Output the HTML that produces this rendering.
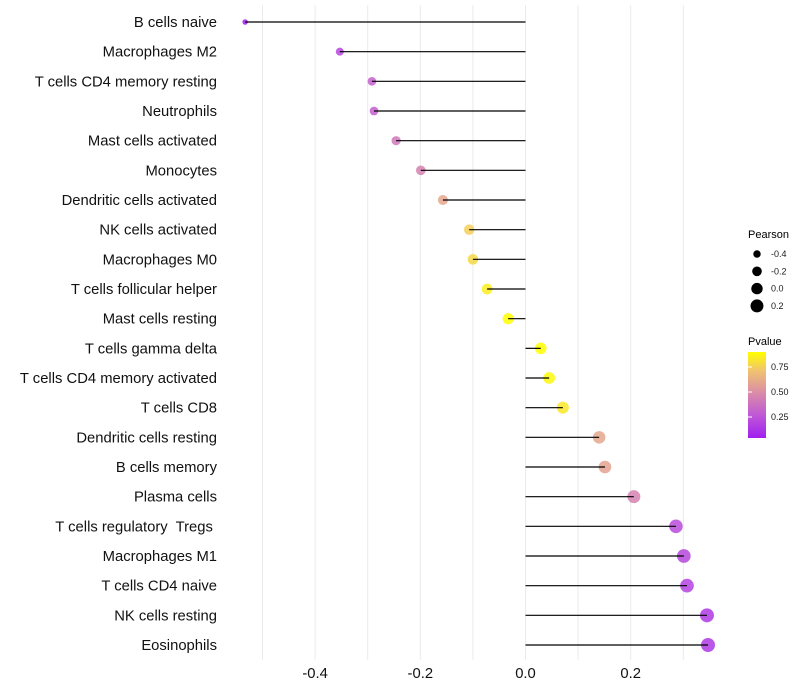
<!DOCTYPE html>
<html><head><meta charset="utf-8"><style>
body{margin:0;background:#fff;font-family:"Liberation Sans",sans-serif}
svg{display:block}
text{white-space:pre}
</style></head><body>
<svg id="chart" width="800" height="700" xmlns="http://www.w3.org/2000/svg">
<g id="grid"></g>
<g id="marks"></g>
<g id="ylabels"></g>
<g id="xlabels"></g>
<g id="legend">
<text x="748" y="238" font-size="11">Pearson</text>
<text x="748" y="345" font-size="11">Pvalue</text>
<defs><linearGradient id="pg" x1="0" y1="1" x2="0" y2="0">
<stop offset="0" stop-color="#A020F0"/><stop offset="0.25" stop-color="#BE55D8"/><stop offset="0.52" stop-color="#D98BA8"/><stop offset="0.78" stop-color="#F0C270"/><stop offset="1" stop-color="#FFFF00"/></linearGradient></defs>
<rect x="748" y="352" width="18" height="86" fill="url(#pg)"/>
</g>
</svg>
<script>
const categories=["B cells naive","Macrophages M2","T cells CD4 memory resting","Neutrophils","Mast cells activated","Monocytes","Dendritic cells activated","NK cells activated","Macrophages M0","T cells follicular helper","Mast cells resting","T cells gamma delta","T cells CD4 memory activated","T cells CD8","Dendritic cells resting","B cells memory","Plasma cells","T cells regulatory  Tregs ","Macrophages M1","T cells CD4 naive","NK cells resting","Eosinophils"];
const pearson=[-0.533,-0.353,-0.292,-0.288,-0.246,-0.199,-0.157,-0.107,-0.100,-0.073,-0.033,0.029,0.045,0.071,0.140,0.151,0.206,0.286,0.301,0.307,0.345,0.347];
const pvalue=[0.04,0.2,0.3,0.3,0.4,0.45,0.6,0.75,0.78,0.85,0.92,0.93,0.88,0.83,0.6,0.58,0.45,0.22,0.2,0.18,0.14,0.14];
const xTicks=[-0.4,-0.2,0.0,0.2];
const xTickLabels=["-0.4","-0.2","0.0","0.2"];
const sizeLegendValues=[-0.4,-0.2,0.0,0.2];
const colorLegendValues=[0.25,0.5,0.75];

const NS="http://www.w3.org/2000/svg";
const x=v=>525.5+v*526;
const y=i=>22+i*(623/21);
const r=v=>Math.sqrt(Math.max(3,32.6+47*v));
const pY=p=>438-(p-0.04)/(0.9-0.04)*86;
function lerp(a,b,t){return a.map((c,i)=>Math.round(c+(b[i]-c)*t));}
const stops=[[0,[160,32,240]],[0.25,[190,85,216]],[0.52,[217,139,168]],[0.78,[240,194,112]],[1,[255,255,0]]];
function col(p){let t=Math.min(1,Math.max(0,(p-0.04)/(0.86)));for(let i=1;i<stops.length;i++){if(t<=stops[i][0]){const a=stops[i-1],b=stops[i];const c=lerp(a[1],b[1],(t-a[0])/(b[0]-a[0]));return `rgb(${c})`;}}return "rgb(255,255,0)";}
function mk(tag,attrs,parent){const e=document.createElementNS(NS,tag);for(const k in attrs)e.setAttribute(k,attrs[k]);parent.appendChild(e);return e;}
const grid=document.getElementById('grid'),marks=document.getElementById('marks'),yl=document.getElementById('ylabels'),xl=document.getElementById('xlabels'),lg=document.getElementById('legend');
for(let v=-0.5;v<=0.31;v+=0.1){const gl=mk('line',{x1:x(v),x2:x(v),y1:5,y2:660,stroke:'#ebebeb','stroke-width':1},grid);

}
categories.forEach((c,i)=>{
const pt=mk('circle',{cx:x(pearson[i]),cy:y(i),r:r(pearson[i]),fill:col(pvalue[i]),'fill-opacity':0.85},marks);


const sg=mk('line',{x1:x(0),x2:x(pearson[i]),y1:y(i),y2:y(i),stroke:'#000','stroke-width':1.2},marks);


const t=mk('text',{x:217,y:y(i)+5,'text-anchor':'end','font-size':14.8,fill:'#111'},yl);t.textContent=c;


});
xTicks.forEach((v,i)=>{const t=mk('text',{x:x(v),y:678,'text-anchor':'middle','font-size':14.8,fill:'#111'},xl);t.textContent=xTickLabels[i];

});
sizeLegendValues.forEach((v,i)=>{const cy=254+i*17.3;
const c=mk('circle',{cx:757,cy:cy,r:r(v),fill:'#000'},lg);


const t=mk('text',{x:771,y:cy+3,'font-size':9,fill:'#1a1a1a'},lg);t.textContent=v.toFixed(1);

});
colorLegendValues.forEach(v=>{const yy=pY(v);
const tk=mk('line',{x1:748,x2:752,y1:yy,y2:yy,stroke:'#fff'},lg);


const t=mk('text',{x:771,y:yy+3,'font-size':9,fill:'#1a1a1a'},lg);t.textContent=v.toFixed(2);

});
</script>
</body></html>
